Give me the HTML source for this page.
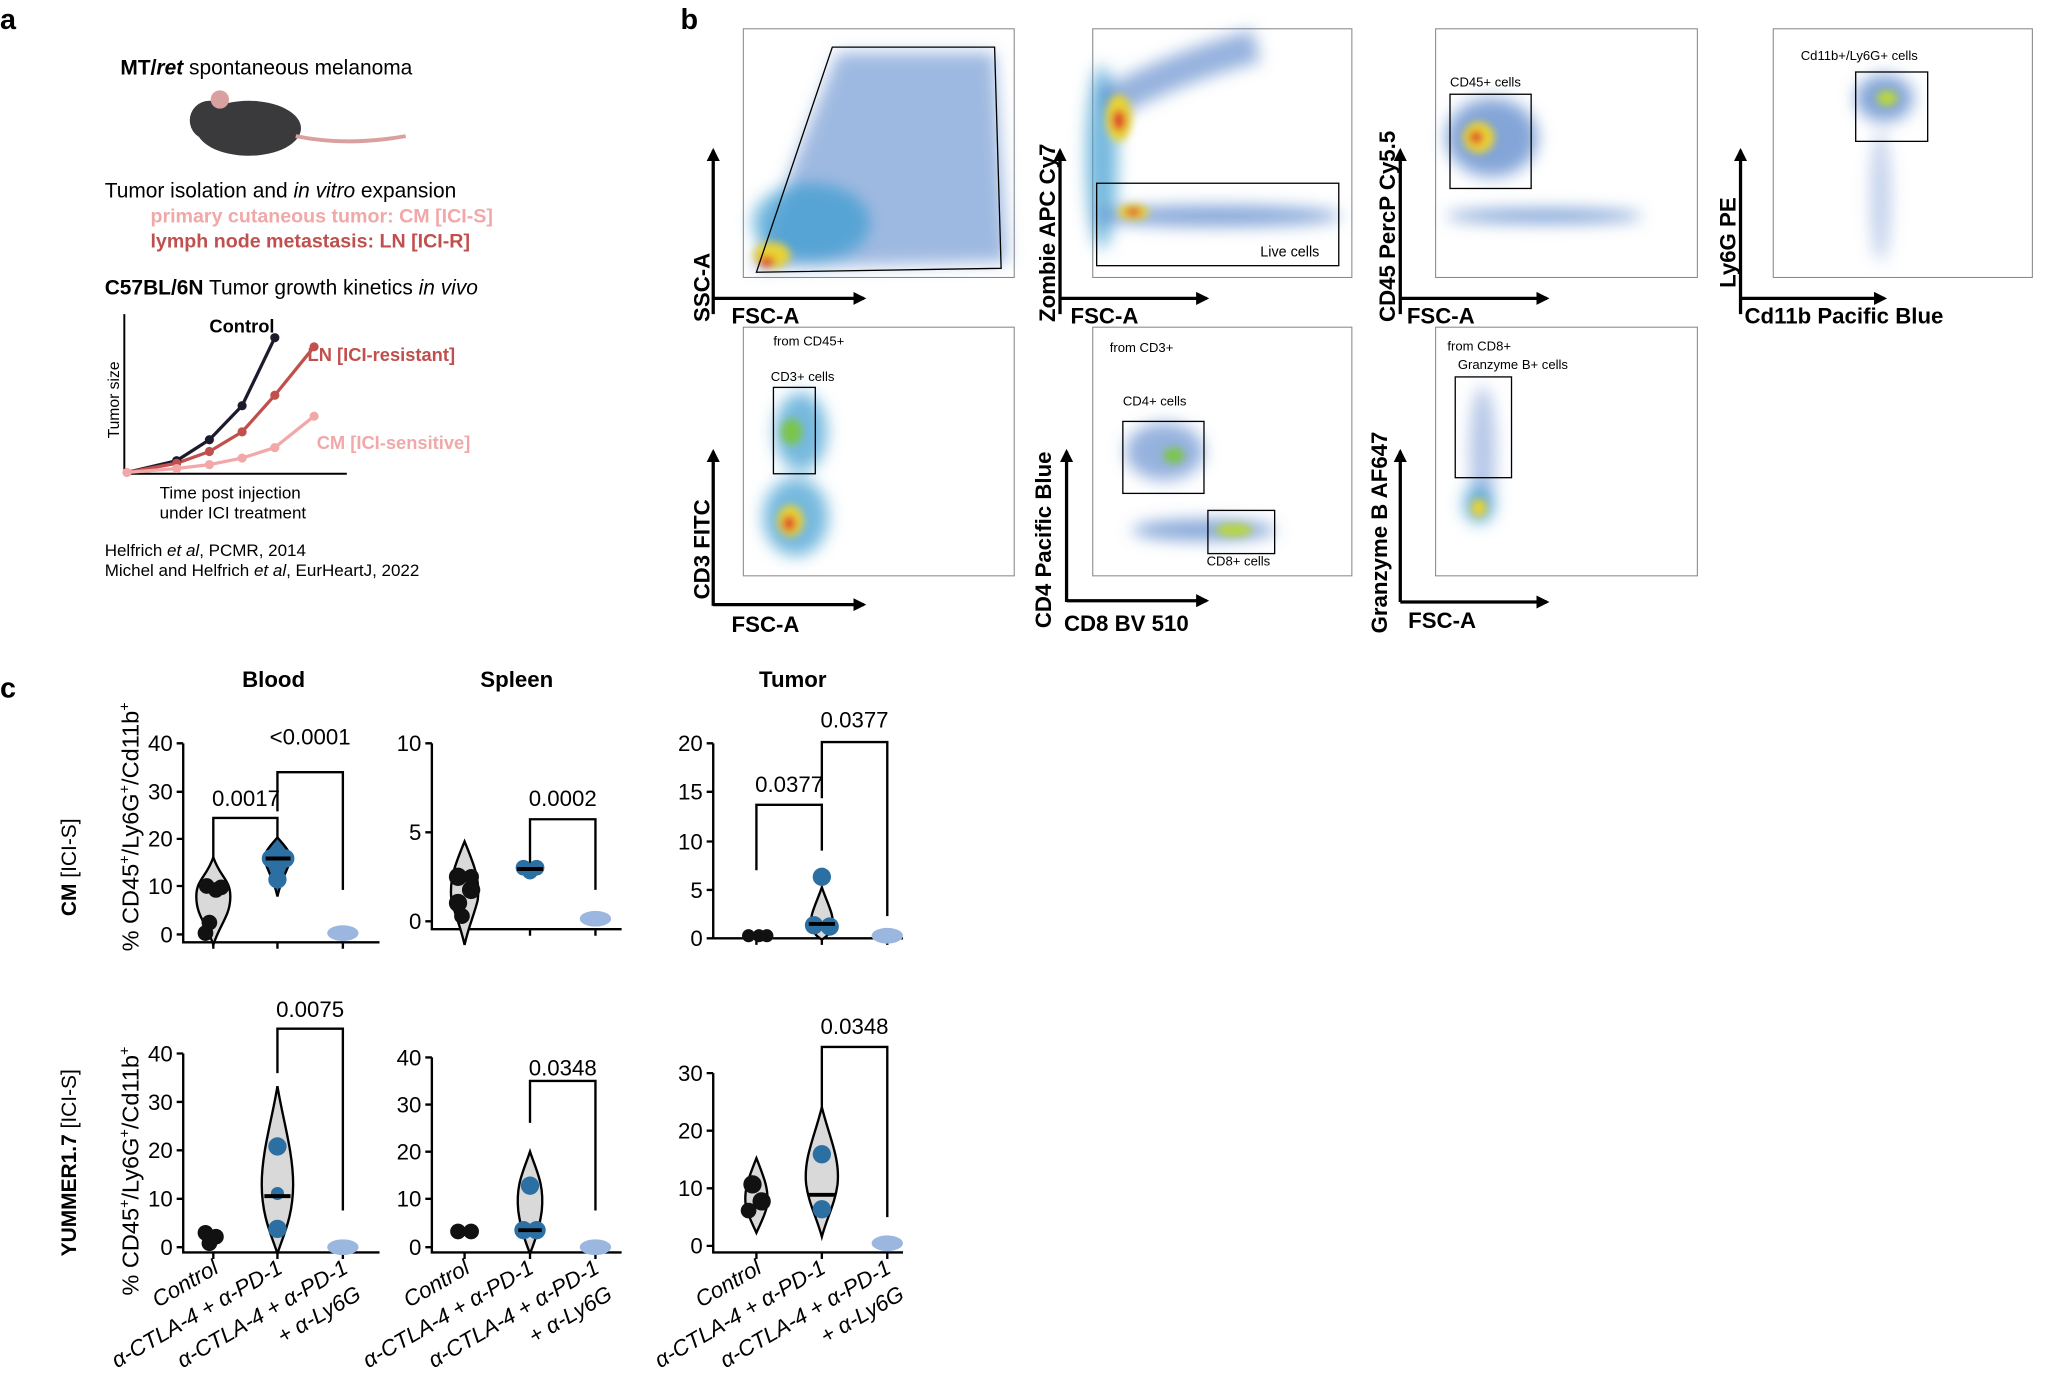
<!DOCTYPE html>
<html><head><meta charset="utf-8"><style>
html,body{margin:0;padding:0;background:#fff}
svg{display:block}
text{font-family:"Liberation Sans",Arial,sans-serif;fill:#000}
.b{font-weight:bold}
.tk{font-size:17px}
.sm{font-size:8px}
.ax{font-size:17px;font-weight:bold}
</style></head><body>
<svg width="2052" height="1382" viewBox="0 0 1568 1056" xmlns="http://www.w3.org/2000/svg">
<defs>
<filter id="bl" x="-50%" y="-50%" width="200%" height="200%"><feGaussianBlur stdDeviation="6"/></filter>
<filter id="bl2" x="-50%" y="-50%" width="200%" height="200%"><feGaussianBlur stdDeviation="3"/></filter>
<marker id="ar" markerWidth="10" markerHeight="10" refX="8" refY="5" orient="auto" markerUnits="userSpaceOnUse"><path d="M0,0 L10,5 L0,10z" fill="#000"/></marker>
</defs>
<text x="0" y="22" font-size="22" class="b">a</text>
<text x="92" y="57" font-size="16">MT/<tspan font-style="italic" font-weight="bold">ret</tspan> spontaneous melanoma</text>
<text x="92" y="57" font-size="16" class="b">MT/</text>
<ellipse cx="190" cy="98" rx="40" ry="21" fill="#3a3a3c"/>
<circle cx="160" cy="92" r="15" fill="#3a3a3c"/><circle cx="168" cy="76" r="7" fill="#d9a0a0"/>
<path d="M226 104 Q265 112 310 104" stroke="#d9a0a0" stroke-width="3" fill="none"/>
<text x="80" y="151" font-size="16">Tumor isolation and <tspan font-style="italic">in vitro</tspan> expansion</text>
<text x="115" y="170" font-size="15" class="b" style="fill:#f0a8a8">primary cutaneous tumor: CM [ICI-S]</text>
<text x="115" y="189" font-size="15" class="b" style="fill:#c0504d">lymph node metastasis: LN [ICI-R]</text>
<text x="80" y="225" font-size="16"><tspan class="b">C57BL/6N</tspan> Tumor growth kinetics <tspan font-style="italic">in vivo</tspan></text>
<line x1="95" y1="240" x2="95" y2="362" stroke="#000" stroke-width="1.5"/>
<line x1="95" y1="362" x2="265" y2="362" stroke="#000" stroke-width="1.5"/>
<text transform="translate(91,335) rotate(-90)" font-size="12">Tumor size</text>
<path d="M97 361 L135 352 L160 336 L185 310 L210 258" stroke="#1d1a2e" stroke-width="2.5" fill="none"/>
<path d="M97 361 L135 354 L160 345 L185 330 L210 302 L240 265" stroke="#c0504d" stroke-width="2.5" fill="none"/>
<path d="M97 361 L135 358 L160 355 L185 350 L210 342 L240 318" stroke="#f2a8a8" stroke-width="2.5" fill="none"/>
<g fill="#1d1a2e"><circle cx="135" cy="352" r="3.5"/><circle cx="160" cy="336" r="3.5"/><circle cx="185" cy="310" r="3.5"/><circle cx="210" cy="258" r="3.5"/></g>
<g fill="#c0504d"><circle cx="135" cy="354" r="3.5"/><circle cx="160" cy="345" r="3.5"/><circle cx="185" cy="330" r="3.5"/><circle cx="210" cy="302" r="3.5"/><circle cx="240" cy="265" r="3.5"/></g>
<g fill="#f2a8a8"><circle cx="97" cy="361" r="3.5"/><circle cx="135" cy="358" r="3.5"/><circle cx="160" cy="355" r="3.5"/><circle cx="185" cy="350" r="3.5"/><circle cx="210" cy="342" r="3.5"/><circle cx="240" cy="318" r="3.5"/></g>
<text x="160" y="254" font-size="14" class="b">Control</text>
<text x="235" y="276" font-size="14" class="b" style="fill:#c0504d">LN [ICI-resistant]</text>
<text x="242" y="343" font-size="14" class="b" style="fill:#f2a8a8">CM [ICI-sensitive]</text>
<text x="122" y="381" font-size="13">Time post injection</text>
<text x="122" y="396" font-size="13">under ICI treatment</text>
<text x="80" y="425" font-size="13">Helfrich <tspan font-style="italic">et al</tspan>, PCMR, 2014</text>
<text x="80" y="440" font-size="13">Michel and Helfrich <tspan font-style="italic">et al</tspan>, EurHeartJ, 2022</text>

<text x="520" y="22" font-size="22" class="b">b</text>
<g fill="none" stroke="#888" stroke-width="0.8">
<rect x="568" y="22" width="207" height="190"/><rect x="835" y="22" width="198" height="190"/>
<rect x="1097" y="22" width="200" height="190"/><rect x="1355" y="22" width="198" height="190"/>
<rect x="568" y="250" width="207" height="190"/><rect x="835" y="250" width="198" height="190"/>
<rect x="1097" y="250" width="200" height="190"/>
</g>
<g filter="url(#bl)">
<path d="M575 205 L640 40 L760 40 L770 200 Z" fill="#4f7fc8" opacity="0.55"/>
<ellipse cx="620" cy="170" rx="45" ry="30" fill="#3a9bd0" opacity="0.7"/>
<ellipse cx="842" cy="120" rx="12" ry="70" fill="#3a9bd0" opacity="0.7"/>
<path d="M845 80 Q900 50 960 35" stroke="#4f7fc8" stroke-width="25" fill="none" opacity="0.6"/>
<ellipse cx="930" cy="165" rx="95" ry="8" fill="#4f7fc8" opacity="0.7"/>
<ellipse cx="1140" cy="105" rx="35" ry="30" fill="#4f7fc8" opacity="0.7"/>
<ellipse cx="1180" cy="165" rx="75" ry="5" fill="#4f7fc8" opacity="0.8"/>
<ellipse cx="1440" cy="75" rx="22" ry="18" fill="#4f7fc8" opacity="0.7"/>
<ellipse cx="1437" cy="150" rx="8" ry="50" fill="#6b8fd0" opacity="0.4"/>
<ellipse cx="612" cy="330" rx="20" ry="30" fill="#3a9bd0" opacity="0.7"/>
<ellipse cx="608" cy="395" rx="25" ry="30" fill="#3a9bd0" opacity="0.7"/>
<ellipse cx="890" cy="345" rx="30" ry="22" fill="#4f7fc8" opacity="0.6"/>
<ellipse cx="920" cy="405" rx="55" ry="8" fill="#4f7fc8" opacity="0.7"/>
<ellipse cx="1133" cy="345" rx="10" ry="50" fill="#6b8fd0" opacity="0.5"/>
<ellipse cx="1130" cy="385" rx="12" ry="15" fill="#3a9bd0" opacity="0.7"/>
</g>
<g filter="url(#bl2)">
<ellipse cx="590" cy="195" rx="14" ry="10" fill="#e7d236"/><ellipse cx="586" cy="200" rx="6" ry="4" fill="#e03a2a"/>
<ellipse cx="855" cy="90" rx="10" ry="18" fill="#e7d236"/><ellipse cx="855" cy="92" rx="5" ry="8" fill="#e03a2a"/>
<ellipse cx="866" cy="162" rx="12" ry="6" fill="#e7d236"/><ellipse cx="866" cy="162" rx="6" ry="3" fill="#e03a2a"/>
<ellipse cx="1130" cy="105" rx="12" ry="12" fill="#e7d236"/><ellipse cx="1128" cy="105" rx="5" ry="5" fill="#e03a2a"/>
<ellipse cx="1442" cy="75" rx="8" ry="6" fill="#b8d640"/>
<ellipse cx="605" cy="330" rx="8" ry="10" fill="#7bc54a"/><ellipse cx="604" cy="398" rx="10" ry="12" fill="#e7d236"/><ellipse cx="603" cy="400" rx="5" ry="6" fill="#e03a2a"/>
<ellipse cx="943" cy="405" rx="14" ry="5" fill="#b8d640"/><ellipse cx="897" cy="348" rx="8" ry="6" fill="#7bc54a"/>
<ellipse cx="1130" cy="388" rx="6" ry="7" fill="#e7d236"/>
</g>
<g fill="none" stroke="#000" stroke-width="1">
<path d="M578 208 L636 36 L760 36 L765 205 Z"/>
<rect x="838" y="140" width="185" height="63"/>
<rect x="1108" y="72" width="62" height="72"/>
<rect x="1418" y="55" width="55" height="53"/>
<rect x="591" y="296" width="32" height="66"/>
<rect x="858" y="322" width="62" height="55"/>
<rect x="923" y="390" width="51" height="33"/>
<rect x="1112" y="288" width="43" height="77"/>
</g>
<g class="sm">
<text x="963" y="196" font-size="11">Live cells</text>
<text x="1108" y="66" font-size="10">CD45+ cells</text>
<text x="1376" y="46" font-size="10">Cd11b+/Ly6G+ cells</text>
<text x="591" y="264" font-size="10">from CD45+</text><text x="589" y="291" font-size="10">CD3+ cells</text>
<text x="848" y="269" font-size="10">from CD3+</text><text x="858" y="310" font-size="10">CD4+ cells</text><text x="922" y="432" font-size="10">CD8+ cells</text>
<text x="1106" y="268" font-size="10">from CD8+</text><text x="1114" y="282" font-size="10">Granzyme B+ cells</text>
</g>
<g stroke="#000" stroke-width="2.5" marker-end="url(#ar)">
<line x1="545" y1="240" x2="545" y2="115"/><line x1="545" y1="228" x2="660" y2="228"/>
<line x1="810" y1="240" x2="810" y2="115"/><line x1="810" y1="228" x2="922" y2="228"/>
<line x1="1070" y1="240" x2="1070" y2="115"/><line x1="1070" y1="228" x2="1182" y2="228"/>
<line x1="1330" y1="240" x2="1330" y2="115"/><line x1="1330" y1="228" x2="1440" y2="228"/>
<line x1="545" y1="463" x2="545" y2="345"/><line x1="545" y1="462" x2="660" y2="462"/>
<line x1="815" y1="460" x2="815" y2="345"/><line x1="815" y1="459" x2="922" y2="459"/>
<line x1="1070" y1="460" x2="1070" y2="345"/><line x1="1070" y1="460" x2="1182" y2="460"/>
</g>
<g class="ax">
<text x="559" y="247">FSC-A</text><text transform="translate(542,246) rotate(-90)">SSC-A</text>
<text x="818" y="247">FSC-A</text><text transform="translate(806,246) rotate(-90)">Zombie APC Cy7</text>
<text x="1075" y="247">FSC-A</text><text transform="translate(1066,246) rotate(-90)">CD45 PercP Cy5.5</text>
<text x="1333" y="247">Cd11b Pacific Blue</text><text transform="translate(1326,220) rotate(-90)">Ly6G PE</text>
<text x="559" y="483">FSC-A</text><text transform="translate(542,458) rotate(-90)">CD3 FITC</text>
<text x="813" y="482">CD8 BV 510</text><text transform="translate(803,480) rotate(-90)">CD4 Pacific Blue</text>
<text x="1076" y="480">FSC-A</text><text transform="translate(1060,484) rotate(-90)">Granzyme B AF647</text>
</g>

<text x="0" y="533" font-size="22" class="b">c</text>
<text x="185" y="525" font-size="17" class="b">Blood</text>
<text x="367" y="525" font-size="17" class="b">Spleen</text>
<text x="580" y="525" font-size="17" class="b">Tumor</text>
<text transform="translate(58,700) rotate(-90)" font-size="16"><tspan class="b">CM</tspan> [ICI-S]</text>
<text transform="translate(58,960) rotate(-90)" font-size="16"><tspan class="b">YUMMER1.7</tspan> [ICI-S]</text>
<text transform="translate(106,727) rotate(-90)" font-size="18">% CD45<tspan dy="-7" font-size="11">+</tspan><tspan dy="7">/Ly6G</tspan><tspan dy="-7" font-size="11">+</tspan><tspan dy="7">/Cd11b</tspan><tspan dy="-7" font-size="11">+</tspan></text>
<text transform="translate(106,990) rotate(-90)" font-size="18">% CD45<tspan dy="-7" font-size="11">+</tspan><tspan dy="7">/Ly6G</tspan><tspan dy="-7" font-size="11">+</tspan><tspan dy="7">/Cd11b</tspan><tspan dy="-7" font-size="11">+</tspan></text>

<g stroke="#000" stroke-width="1.8" fill="none">
<path d="M140 568 V720 H290 M135 568H140 M135 605H140 M135 641H140 M135 677H140 M135 714H140 M163 720v5 M212 720v5 M262 720v5"/>
<path d="M330 568 V710 H475 M325 568H330 M325 636H330 M325 704H330 M355 710v5 M405 710v5 M455 710v5"/>
<path d="M545 568 V717 H690 M540 568H545 M540 605H545 M540 643H545 M540 680H545 M540 717H545 M578 717v5 M628 717v5 M678 717v5"/>
<path d="M140 805 V957 H290 M135 805H140 M135 842H140 M135 879H140 M135 916H140 M135 953H140 M163 957v5 M212 957v5 M262 957v5"/>
<path d="M330 808 V957 H475 M325 808H330 M325 844H330 M325 880H330 M325 916H330 M325 953H330 M355 957v5 M405 957v5 M455 957v5"/>
<path d="M545 820 V957 H690 M540 820H545 M540 864H545 M540 908H545 M540 952H545 M578 957v5 M628 957v5 M678 957v5"/>
<path d="M163 655 V625 H212 V655"/><path d="M212 620 V590 H262 V680"/>
<path d="M405 663 V626 H455 V680"/>
<path d="M578 665 V615 H628 V650"/><path d="M628 610 V567 H678 V700"/>
<path d="M212 820 V786 H262 V925"/>
<path d="M405 858 V826 H455 V925"/>
<path d="M628 866 V800 H678 V930"/>
</g>
<g class="tk" text-anchor="end">
<text x="132" y="574">40</text><text x="132" y="611">30</text><text x="132" y="647">20</text><text x="132" y="683">10</text><text x="132" y="720">0</text>
<text x="322" y="574">10</text><text x="322" y="642">5</text><text x="322" y="710">0</text>
<text x="537" y="574">20</text><text x="537" y="611">15</text><text x="537" y="649">10</text><text x="537" y="686">5</text><text x="537" y="723">0</text>
<text x="132" y="811">40</text><text x="132" y="848">30</text><text x="132" y="885">20</text><text x="132" y="922">10</text><text x="132" y="959">0</text>
<text x="322" y="814">40</text><text x="322" y="850">30</text><text x="322" y="886">20</text><text x="322" y="922">10</text><text x="322" y="959">0</text>
<text x="537" y="826">30</text><text x="537" y="870">20</text><text x="537" y="914">10</text><text x="537" y="958">0</text>
</g>
<g class="tk" text-anchor="middle">
<text x="188" y="616">0.0017</text><text x="237" y="569">&lt;0.0001</text>
<text x="430" y="616">0.0002</text>
<text x="603" y="605">0.0377</text><text x="653" y="556">0.0377</text>
<text x="237" y="777">0.0075</text>
<text x="430" y="822">0.0348</text>
<text x="653" y="790">0.0348</text>
</g>
<g stroke="#000" stroke-width="1.8" fill="#d9d9d9">
<path d="M163 655 C158 670 150 672 150 685 C150 700 158 706 163 722 C168 706 176 700 176 685 C176 672 168 670 163 655Z"/>
<path d="M212 640 C205 648 200 653 203 660 C206 668 210 675 212 685 C214 675 218 668 221 660 C224 653 219 648 212 640Z" fill="#2b6fa3"/>
<path d="M355 643 C348 660 343 672 345 688 C348 700 352 708 355 722 C358 708 362 700 365 688 C367 672 362 660 355 643Z"/>
<path d="M628 678 C624 690 618 700 620 708 C622 714 625 716 628 718 C631 716 634 714 636 708 C638 700 632 690 628 678Z"/>
<path d="M212 830 C208 855 200 880 200 905 C200 930 208 945 212 958 C216 945 224 930 224 905 C224 880 216 855 212 830Z"/>
<path d="M405 880 C400 895 394 905 396 925 C398 940 402 950 405 958 C408 950 412 940 414 925 C416 905 410 895 405 880Z"/>
<path d="M578 885 C572 900 568 910 570 922 C572 930 575 935 578 942 C581 935 584 930 586 922 C588 910 584 900 578 885Z"/>
<path d="M628 846 C622 870 614 885 616 905 C618 920 624 930 628 945 C632 930 638 920 640 905 C642 885 634 870 628 846Z"/>
</g>
<g fill="#111">
<circle cx="158" cy="677" r="6"/><circle cx="169" cy="678" r="6"/><circle cx="160" cy="705" r="6"/><circle cx="157" cy="713" r="6"/><circle cx="165" cy="680" r="6"/>
<circle cx="350" cy="670" r="7"/><circle cx="360" cy="680" r="7"/><circle cx="350" cy="690" r="7"/><circle cx="353" cy="700" r="6"/><circle cx="360" cy="670" r="6"/>
<circle cx="572" cy="715" r="5"/><circle cx="580" cy="715" r="5"/><circle cx="586" cy="715" r="5"/>
<circle cx="157" cy="942" r="6"/><circle cx="165" cy="945" r="6"/><circle cx="160" cy="950" r="6"/>
<circle cx="350" cy="941" r="6"/><circle cx="360" cy="941" r="6"/>
<circle cx="575" cy="905" r="7"/><circle cx="582" cy="918" r="7"/><circle cx="572" cy="925" r="6"/>
</g>
<g fill="#2b6fa3">
<circle cx="207" cy="656" r="7"/><circle cx="218" cy="656" r="7"/><circle cx="212" cy="672" r="7"/>
<circle cx="400" cy="663" r="6"/><circle cx="410" cy="663" r="6"/><circle cx="405" cy="666" r="6"/>
<circle cx="628" cy="670" r="7"/><circle cx="622" cy="707" r="7"/><circle cx="634" cy="708" r="7"/>
<circle cx="212" cy="876" r="7"/><circle cx="212" cy="939" r="7"/><circle cx="212" cy="912" r="5"/>
<circle cx="405" cy="906" r="7"/><circle cx="400" cy="940" r="7"/><circle cx="410" cy="940" r="7"/>
<circle cx="628" cy="882" r="7"/><circle cx="628" cy="924" r="7"/>
</g>
<g fill="#9bb7e0">
<ellipse cx="262" cy="713" rx="12" ry="6"/>
<ellipse cx="455" cy="702" rx="12" ry="6"/>
<ellipse cx="678" cy="715" rx="12" ry="6"/>
<ellipse cx="262" cy="953" rx="12" ry="6"/>
<ellipse cx="455" cy="953" rx="12" ry="6"/>
<ellipse cx="678" cy="950" rx="12" ry="6"/>
</g>
<g stroke="#000" stroke-width="3">
<line x1="203" y1="656" x2="222" y2="656"/><line x1="395" y1="664" x2="415" y2="664"/><line x1="618" y1="706" x2="638" y2="706"/>
<line x1="202" y1="914" x2="222" y2="914"/><line x1="396" y1="940" x2="414" y2="940"/><line x1="617" y1="913" x2="639" y2="913"/>
</g>
<g font-size="17" font-style="italic" text-anchor="end">
<g>
<text transform="translate(168,972) rotate(-30)">Control</text>
<text transform="translate(217,972) rotate(-30)">α-CTLA-4 + α-PD-1</text>
<text transform="translate(267,972) rotate(-30)">α-CTLA-4 + α-PD-1</text>
<text transform="translate(277,992) rotate(-30)">+ α-Ly6G</text>
</g>
<g transform="translate(192,0)">
<text transform="translate(168,972) rotate(-30)">Control</text>
<text transform="translate(217,972) rotate(-30)">α-CTLA-4 + α-PD-1</text>
<text transform="translate(267,972) rotate(-30)">α-CTLA-4 + α-PD-1</text>
<text transform="translate(277,992) rotate(-30)">+ α-Ly6G</text>
</g>
<g transform="translate(415,0)">
<text transform="translate(168,972) rotate(-30)">Control</text>
<text transform="translate(217,972) rotate(-30)">α-CTLA-4 + α-PD-1</text>
<text transform="translate(267,972) rotate(-30)">α-CTLA-4 + α-PD-1</text>
<text transform="translate(277,992) rotate(-30)">+ α-Ly6G</text>
</g>
</g>
</svg>
</body></html>
